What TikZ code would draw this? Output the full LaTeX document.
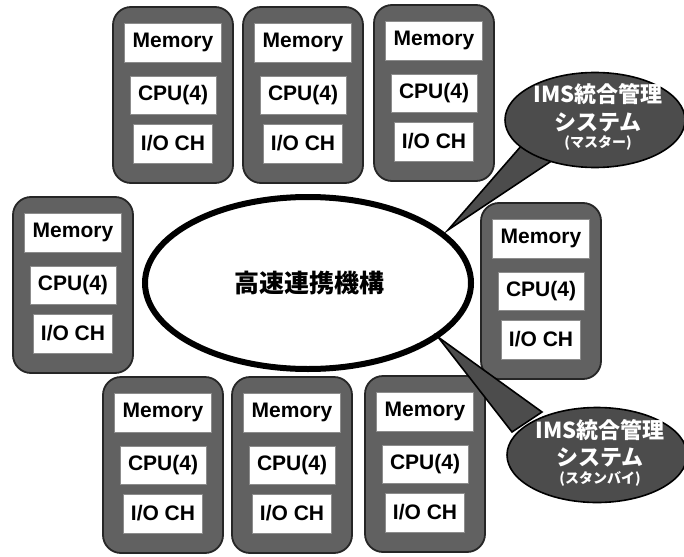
\documentclass[tikz,border=0pt]{standalone}
\usepackage{fontspec}
\setmainfont{Liberation Sans}
\newfontfamily\cjk{Noto Sans CJK JP}
\usetikzlibrary{shapes.geometric}
\pgfdeclarelayer{bg}
\pgfsetlayers{bg,main}
\tikzset{
  unit/.style={draw=black!85, line width=1.8pt, fill=black!62, rounded corners=18pt,
    minimum width=120pt, minimum height=176pt, inner sep=0pt},
  lbl/.style={fill=white, draw=black!45, line width=0.4pt, minimum height=39pt, inner sep=0pt,
    font=\fontsize{21}{21}\selectfont\bfseries},
  mem/.style={lbl, minimum width=97pt},
  cpu/.style={lbl, minimum width=86pt, minimum height=38pt},
  ioch/.style={lbl, minimum width=79pt},
  link/.style={line width=6pt, black},
  bus/.style={ellipse, draw=black, line width=6pt, fill=white, minimum width=326pt,
    minimum height=172pt, inner sep=0pt},
  callout/.style={ellipse, draw=black, line width=1.6pt, fill=black!70, minimum width=180pt,
    minimum height=95pt, inner sep=0pt},
  tail/.style={draw=black, line width=1.6pt, fill=black!70, line join=miter},
  ctext/.style={text=white, inner sep=0pt, font=\cjk\bfseries\fontsize{22}{22}\selectfont},
  csmall/.style={text=white, inner sep=0pt, font=\cjk\bfseries\fontsize{14}{14}\selectfont},
}
\begin{document}
\begin{tikzpicture}[x=1pt,y=-1pt]
\useasboundingbox (0,0) rectangle (684,556);
\fill[white] (0,0) rectangle (684,556);
% units
\foreach \n/\x/\y in {1/173/95, 2/303/95, 3/434/93, 4/73/285, 5/541/291, 6/163/465, 7/292/465, 8/425/464}{
  \node[unit] (u\n) at (\x,\y) {};
  \node[mem] (m\n) at (\x,\y-52.5) {Memory};
  \node[cpu] (c\n) at (\x,\y) {CPU(4)};
  \node[ioch] (i\n) at (\x,\y+48.5) {I/O CH};
}
% bus
\node[bus] (bus) at (308,283) {};
\node[inner sep=0pt, font=\cjk\bfseries\fontsize{25}{25}\selectfont] (bustext) at (309,283) {高速連携機構};
% connector end points inside the bus ellipse
\coordinate (k1) at (228,212);
\coordinate (k2) at (307,205);
\coordinate (k3) at (402,222);
\coordinate (k4) at (155,288);
\coordinate (k5) at (462,297);
\coordinate (k6) at (224,348);
\coordinate (k7) at (292,356);
\coordinate (k8) at (390,348);
\begin{pgfonlayer}{bg}
  \draw[link] ([xshift=32pt]u1.south) -- (k1);
  \draw[link] ([xshift=4pt]u2.south) -- (k2);
  \draw[link] ([xshift=-12pt]u3.south) -- (k3);
  \draw[link] ([yshift=-3pt]u4.east) -- (k4);
  \draw[link] ([yshift=-6pt]u5.west) -- (k5);
  \draw[link] ([xshift=34pt]u6.north) -- (k6);
  \draw[link] (u7.north) -- (k7);
  \draw[link] ([xshift=-18pt]u8.north) -- (k8);
\end{pgfonlayer}
% callouts
\coordinate (t1) at (448,230);
\coordinate (t2) at (438,337);
\draw[tail] (522,145) -- (t1) -- (556,158) -- cycle;
\draw[tail] (542,412) -- (t2) -- (512,432) -- cycle;
\node[callout] (s1) at (595,120) {};
\node[callout] (s2) at (597,455) {};
\node[ctext] (s1a) at (598,94) {IMS統合管理};
\node[ctext] (s1b) at (598,122) {システム};
\node[csmall] (s1c) at (598,143) {(マスター)};
\node[ctext] (s2a) at (600,430) {IMS統合管理};
\node[ctext] (s2b) at (600,457) {システム};
\node[csmall] (s2c) at (600,479) {(スタンバイ)};
\end{tikzpicture}
\end{document}
